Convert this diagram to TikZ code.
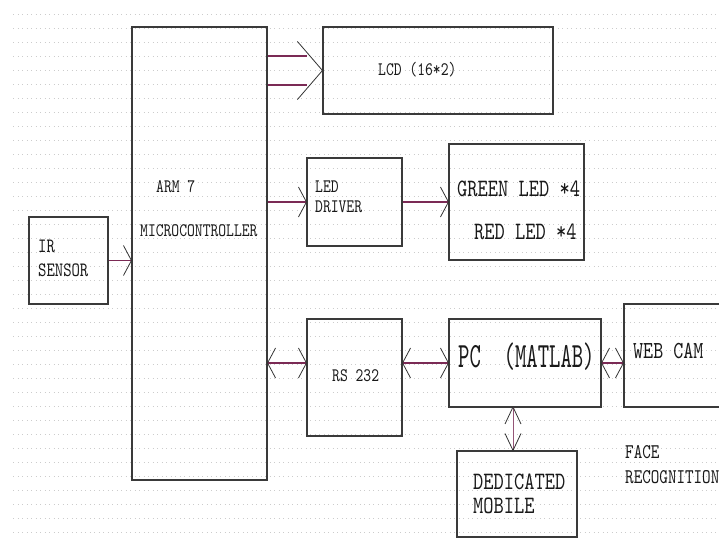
\documentclass[tikz,border=0pt]{standalone}
\usepackage{fontspec}
\newfontfamily\boxfont[FakeStretch=0.78]{lmmono10-regular.otf}
\newfontfamily\pcfont[FakeStretch=0.61]{lmmono10-regular.otf}
\definecolor{wire}{HTML}{7B2A55}
\definecolor{frame}{HTML}{3A3A3A}
\tikzset{
	blk/.style={draw=frame, line width=1.1bp, inner sep=0pt},
	lbl/.style={anchor=base west, inner sep=0pt, text=black!90, font=\boxfont\fontsize{#1bp}{#1bp}\selectfont},
	link/.style={draw=wire, line width=1.8bp},
	head/.style={draw=black!80, line width=0.8bp},
	hbarb/.pic={\draw[head] (-8,-15) -- (0,0) -- (-8,15);},
	vbarb/.pic={\draw[head] (-8,-17) -- (0,0) -- (8,-17);}
}
\begin{document}
\begin{tikzpicture}[x=1bp, y=-1bp]
	\useasboundingbox (0,0) rectangle (719,540);
	\clip (0,0) rectangle (719,540);
	% dotted sheet
	\foreach \r in {14,28,...,532}
		\draw[gray!40, line width=0.8bp, dash pattern=on 0.8bp off 3.7bp] (13,\r) -- (719,\r);
	% blocks
	\node (ir)   at ( 68.5, 260.5)	[blk, minimum width= 79bp, minimum height= 87bp]	{};
	\node (arm)  at (199.5, 253.5)	[blk, minimum width=135bp, minimum height=453bp]	{};
	\node (lcd)  at (438.0,  70.5)	[blk, minimum width=230bp, minimum height= 87bp]	{};
	\node (drv)  at (354.5, 202.0)	[blk, minimum width= 95bp, minimum height= 88bp]	{};
	\node (leds) at (516.5, 202.0)	[blk, minimum width=135bp, minimum height=116bp]	{};
	\node (rs)   at (354.5, 377.5)	[blk, minimum width= 95bp, minimum height=117bp]	{};
	\node (pc)   at (525.0, 363.0)	[blk, minimum width=152bp, minimum height= 88bp]	{};
	\node (cam)  at (682.0, 355.5)	[blk, minimum width=116bp, minimum height=103bp]	{};
	\node (mob)  at (517.0, 494.0)	[blk, minimum width=120bp, minimum height= 86bp]	{};
	% texts
	\node (irA)  at ( 38, 253)	[lbl=20.4]	{IR};
	\node (irB)  at ( 38, 277)	[lbl=20.4]	{SENSOR};
	\node (armA) at (156, 193)	[lbl=19.1]	{ARM 7};
	\node (armB) at (140, 237)	[lbl=19.1]	{MICROCONTROLLER};
	\node (lcdA) at (378,  76)	[lbl=19.1]	{LCD (16*2)};
	\node (drvA) at (315, 193)	[lbl=19.1]	{LED};
	\node (drvB) at (315, 213)	[lbl=19.1]	{DRIVER};
	\node (ledA) at (457, 197)	[lbl=25]	{GREEN LED *4};
	\node (ledB) at (474, 240)	[lbl=25]	{RED LED *4};
	\node (rsA)  at (332, 381)	[lbl=19.1]	{RS 232};
	\node (pcA)  at (458, 367)	[anchor=base west, inner sep=0pt, text=black!90, font=\pcfont\fontsize{35.5bp}{36bp}\selectfont]	{PC\ \ (MATLAB)};
	\node (camA) at (633, 358)	[lbl=24.5]	{WEB CAM};
	\node (facA) at (625, 458)	[lbl=20.9]	{FACE};
	\node (facB) at (625, 483)	[lbl=20.9]	{RECOGNITION};
	\node (mobA) at (473, 489)	[lbl=25]	{DEDICATED};
	\node (mobB) at (473, 513)	[lbl=25]	{MOBILE};
	% connectors
	\coordinate (l1) at (307, 56);
	\coordinate (l2) at (307, 85);
	\draw[link] (arm.east |- l1) -- (l1);
	\draw[link] (arm.east |- l2) -- (l2);
	\draw[head] (lcd.west) ++(-25,-29) -- (lcd.west) -- ++(-25,29);
	\draw[link] (ir.east) -- (ir.east -| arm.west);
	\pic at (ir.east -| arm.west) {hbarb};
	\draw[link] (arm.east |- drv.west) -- (drv.west);
	\pic at (drv.west) {hbarb};
	\draw[link] (drv.east) -- (leds.west);
	\pic at (leds.west) {hbarb};
	\draw[link] (arm.east |- pc.west) -- (rs.west |- pc.west);
	\pic[rotate=180] at (arm.east |- pc.west) {hbarb};
	\pic at (rs.west |- pc.west) {hbarb};
	\draw[link] (rs.east |- pc.west) -- (pc.west);
	\pic[rotate=180] at (rs.east |- pc.west) {hbarb};
	\pic at (pc.west) {hbarb};
	\draw[link] (pc.east) -- (pc.east -| cam.west);
	\pic[rotate=180] at (pc.east) {hbarb};
	\pic at (pc.east -| cam.west) {hbarb};
	\coordinate (pcS) at (513, 407);
	\draw[draw=wire!80, line width=1bp] (pcS) -- (pcS |- mob.north);
	\pic[rotate=180] at (pcS) {vbarb};
	\pic at (pcS |- mob.north) {vbarb};
\end{tikzpicture}
\end{document}
